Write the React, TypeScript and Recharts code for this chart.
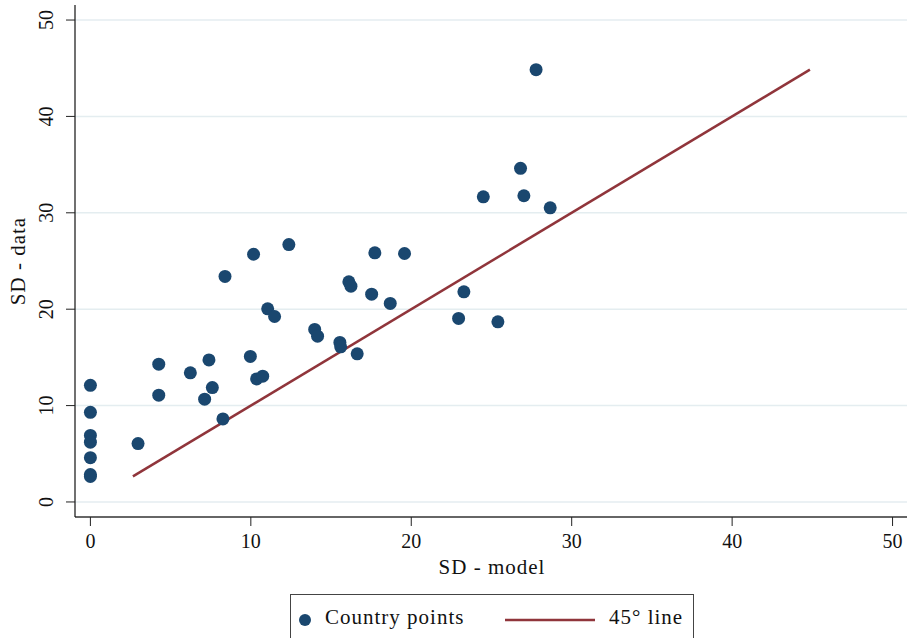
import {
  ScatterChart,
  Scatter,
  XAxis,
  YAxis,
  CartesianGrid,
  Legend,
} from "recharts";

const FONT = "'Liberation Serif', 'DejaVu Serif', serif";
const NAVY = "#1a476f";
const MAROON = "#90353b";

// country standard deviations: model (x) vs data (y)
const SD_MODEL = [
  0, 0, 0, 0, 0, 0, 0, 2.97, 4.26, 4.26, 6.23, 7.39, 7.6, 7.12, 8.26, 9.97,
  10.36, 10.74, 8.39, 10.17, 12.37, 11.05, 11.48, 13.98, 14.16, 15.55, 15.6,
  16.63, 16.11, 16.24, 17.53, 17.73, 18.69, 19.58, 22.95, 23.28, 25.4, 24.49,
  26.81, 27.02, 28.66, 27.78,
];
const SD_DATA = [
  12.1, 9.3, 6.9, 6.2, 4.6, 2.85, 2.65, 6.06, 14.3, 11.08, 13.4, 14.74, 11.87,
  10.66, 8.62, 15.1, 12.77, 13.05, 23.4, 25.7, 26.7, 20.04, 19.24, 17.9, 17.2,
  16.55, 16.1, 15.37, 22.84, 22.39, 21.56, 25.85, 20.6, 25.78, 19.04, 21.8,
  18.69, 31.66, 34.61, 31.77, 30.52, 44.85,
];
// 45 degree reference line endpoints
const LINE_ENDS = [2.65, 44.85];
const TICKS = [0, 10, 20, 30, 40, 50];

const points = SD_MODEL.map((x, i) => ({ x, y: SD_DATA[i] }));
const linePoints = LINE_ENDS.map((v) => ({ x: v, y: v }));

const XTick = ({ x, y, payload }: any) => (
  <text
    x={x}
    y={y}
    textAnchor="middle"
    dominantBaseline="central"
    fontFamily={FONT}
    fontSize={20}
    fill="#111"
  >
    {payload.value}
  </text>
);

const YTick = ({ x, y, payload }: any) => (
  <text
    x={x}
    y={y}
    transform={`rotate(-90 ${x} ${y})`}
    textAnchor="middle"
    dominantBaseline="central"
    fontFamily={FONT}
    fontSize={20}
    fill="#111"
  >
    {payload.value}
  </text>
);

const XTitle = ({ viewBox }: any) => (
  <text
    x={viewBox.x + viewBox.width / 2 + 1}
    y={574}
    textAnchor="middle"
    fontFamily={FONT}
    fontSize={21}
    letterSpacing={1}
    fill="#111"
  >
    SD - model
  </text>
);

const YTitle = ({ viewBox }: any) => {
  const cx = 18;
  const cy = viewBox.y + viewBox.height / 2;
  return (
    <text
      x={cx}
      y={cy}
      transform={`rotate(-90 ${cx} ${cy})`}
      textAnchor="middle"
      dominantBaseline="central"
      fontFamily={FONT}
      fontSize={21}
      letterSpacing={1}
      fill="#111"
    >
      SD - data
    </text>
  );
};

const LegendBox = () => (
  <div
    style={{
      position: "relative",
      height: 50,
      border: "1px solid #444",
      boxSizing: "border-box",
      fontFamily: FONT,
      fontSize: 21,
      letterSpacing: 1,
      color: "#111",
    }}
  >
    <svg width={402} height={48} style={{ position: "absolute", left: 0, top: 0 }}>
      <circle cx={14} cy={25} r={6} fill={NAVY} />
      <line x1={214} y1={25} x2={304} y2={25} stroke={MAROON} strokeWidth={2.5} />
    </svg>
    <span style={{ position: "absolute", left: 34, top: 10 }}>Country points</span>
    <span style={{ position: "absolute", left: 318, top: 10 }}>45° line</span>
  </div>
);

export default function App() {
  return (
    <div style={{ position: "absolute", left: 0, top: 0, background: "#fff" }}>
      <ScatterChart
        width={908}
        height={638}
        margin={{ top: 5, right: 1, left: 0, bottom: 0 }}
      >
        <CartesianGrid
          vertical={false}
          stroke="#e4edf0"
          strokeWidth={1.5}
          horizontalValues={TICKS}
        />
        <XAxis
          type="number"
          dataKey="x"
          domain={[-0.96, 50.9]}
          ticks={TICKS}
          interval={0}
          allowDataOverflow
          height={77}
          tickSize={9}
          tickMargin={15}
          tick={<XTick />}
          axisLine={{ stroke: "#333", strokeWidth: 1.5 }}
          tickLine={{ stroke: "#222", strokeWidth: 1 }}
          label={<XTitle />}
        />
        <YAxis
          type="number"
          dataKey="y"
          domain={[-1.56, 51.56]}
          ticks={TICKS}
          interval={0}
          allowDataOverflow
          width={75}
          tickSize={9}
          tickMargin={20}
          tick={<YTick />}
          axisLine={{ stroke: "#111", strokeWidth: 1.2 }}
          tickLine={{ stroke: "#222", strokeWidth: 1 }}
          label={<YTitle />}
        />
        <Legend
          content={<LegendBox />}
          wrapperStyle={{
            position: "absolute",
            left: 290,
            top: 594,
            bottom: "auto",
            width: 404,
            height: 44,
            overflow: "hidden",
          }}
        />
        <Scatter
          name="45° line"
          data={linePoints}
          line={{ stroke: MAROON, strokeWidth: 2.5 }}
          shape={() => <g />}
          isAnimationActive={false}
        />
        <Scatter
          name="Country points"
          data={points}
          fill={NAVY}
          shape={(p: any) => <circle cx={p.cx} cy={p.cy} r={6.5} fill={NAVY} />}
          isAnimationActive={false}
        />
      </ScatterChart>
    </div>
  );
}
